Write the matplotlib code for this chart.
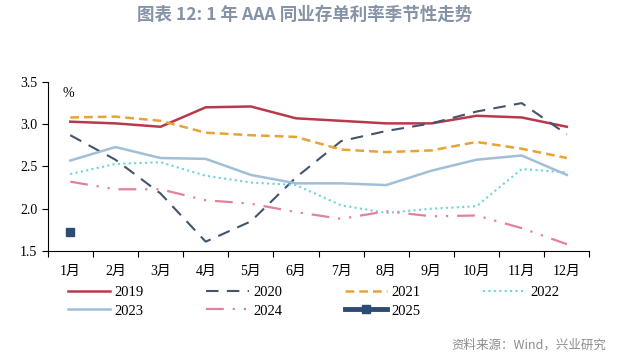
import matplotlib.pyplot as plt
import numpy as np

plt.rcParams['font.family'] = ['Liberation Serif', 'Noto Sans CJK SC']

months = ['1月', '2月', '3月', '4月', '5月', '6月', '7月', '8月', '9月', '10月', '11月', '12月']

r2019 = [3.03, 3.01, 2.97, 3.20, 3.21, 3.07, 3.04, 3.01, 3.01, 3.10, 3.08, 2.97]
r2020 = [2.87, 2.58, 2.18, 1.61, 1.85, 2.37, 2.80, 2.92, 3.01, 3.15, 3.25, 2.88]
r2021 = [3.08, 3.09, 3.04, 2.90, 2.87, 2.85, 2.70, 2.67, 2.69, 2.79, 2.71, 2.60]
r2022 = [2.41, 2.53, 2.55, 2.39, 2.31, 2.28, 2.04, 1.95, 2.00, 2.03, 2.47, 2.43]
r2023 = [2.57, 2.73, 2.60, 2.59, 2.40, 2.30, 2.30, 2.28, 2.45, 2.58, 2.63, 2.40]
r2024 = [2.32, 2.23, 2.23, 2.10, 2.06, 1.96, 1.88, 1.97, 1.91, 1.92, 1.77, 1.58]
r2025 = [1.72]

x = np.arange(len(months))

fig = plt.figure(figsize=(6.17, 3.58), dpi=100)
ax = fig.add_axes([0.0773, 0.299, 0.878, 0.472])

h19, = ax.plot(x, r2019, color='#b8394c', lw=1.8, label='2019')
h20, = ax.plot(x, r2020, color='#44546a', lw=1.5, dashes=(6, 4), label='2020')
h21, = ax.plot(x, r2021, color='#e9a236', lw=1.8, dashes=(3.5, 2), label='2021')
h22, = ax.plot(x, r2022, color='#6fd4d8', lw=1.5, dashes=(1, 1.6), label='2022')
h23, = ax.plot(x, r2023, color='#a1bfd7', lw=1.8, label='2023')
h24, = ax.plot(x, r2024, color='#e3819b', lw=1.6, dashes=(8, 4, 1, 4, 1, 4), label='2024')
h25, = ax.plot(x[:len(r2025)], r2025, color='#2d4b75', lw=3.5, marker='s', ms=6, label='2025')

ax.set_xlim(-0.5, 11.5)
ax.set_ylim(1.5, 3.5)
ax.set_yticks([1.5, 2.0, 2.5, 3.0, 3.5])
ax.set_yticklabels(['1.5', '2.0', '2.5', '3.0', '3.5'], fontsize=10)
ax.set_xticks(np.arange(-0.5, 12, 1))
ax.set_xticklabels([])
ax.set_xticks(x, minor=True)
ax.set_xticklabels(months, minor=True, fontsize=10)
ax.tick_params(axis='x', which='major', length=4, direction='out')
ax.tick_params(axis='x', which='minor', length=0, pad=10)
ax.tick_params(axis='y', length=4, direction='out')
for s in ['top', 'right']:
    ax.spines[s].set_visible(False)
ax.text(0.028, 0.93, '%', transform=ax.transAxes, fontsize=10, va='center')

# legend filled column by column, so order handles to read row-wise
order = [h19, h23, h20, h24, h21, h25, h22]
fig.legend(handles=order, labels=[h.get_label() for h in order],
           loc='upper left', bbox_to_anchor=(0.110, 0.201), ncol=4,
           frameon=False, fontsize=10.5, handlelength=2.9, columnspacing=4.3,
           handletextpad=0.3, labelspacing=0.35, borderaxespad=0, borderpad=0)

fig.text(0.493, 0.958, '图表 12: 1 年 AAA 同业存单利率季节性走势', ha='center', va='center',
         fontsize=12.6, fontweight='bold', color='#8593a8', family=['Noto Sans CJK SC'])
fig.text(0.982, 0.035, '资料来源：Wind，兴业研究', ha='right', va='center',
         fontsize=9, color='#8c8c8c', family=['Noto Sans CJK SC'])

fig.savefig('out.png', dpi=100)
